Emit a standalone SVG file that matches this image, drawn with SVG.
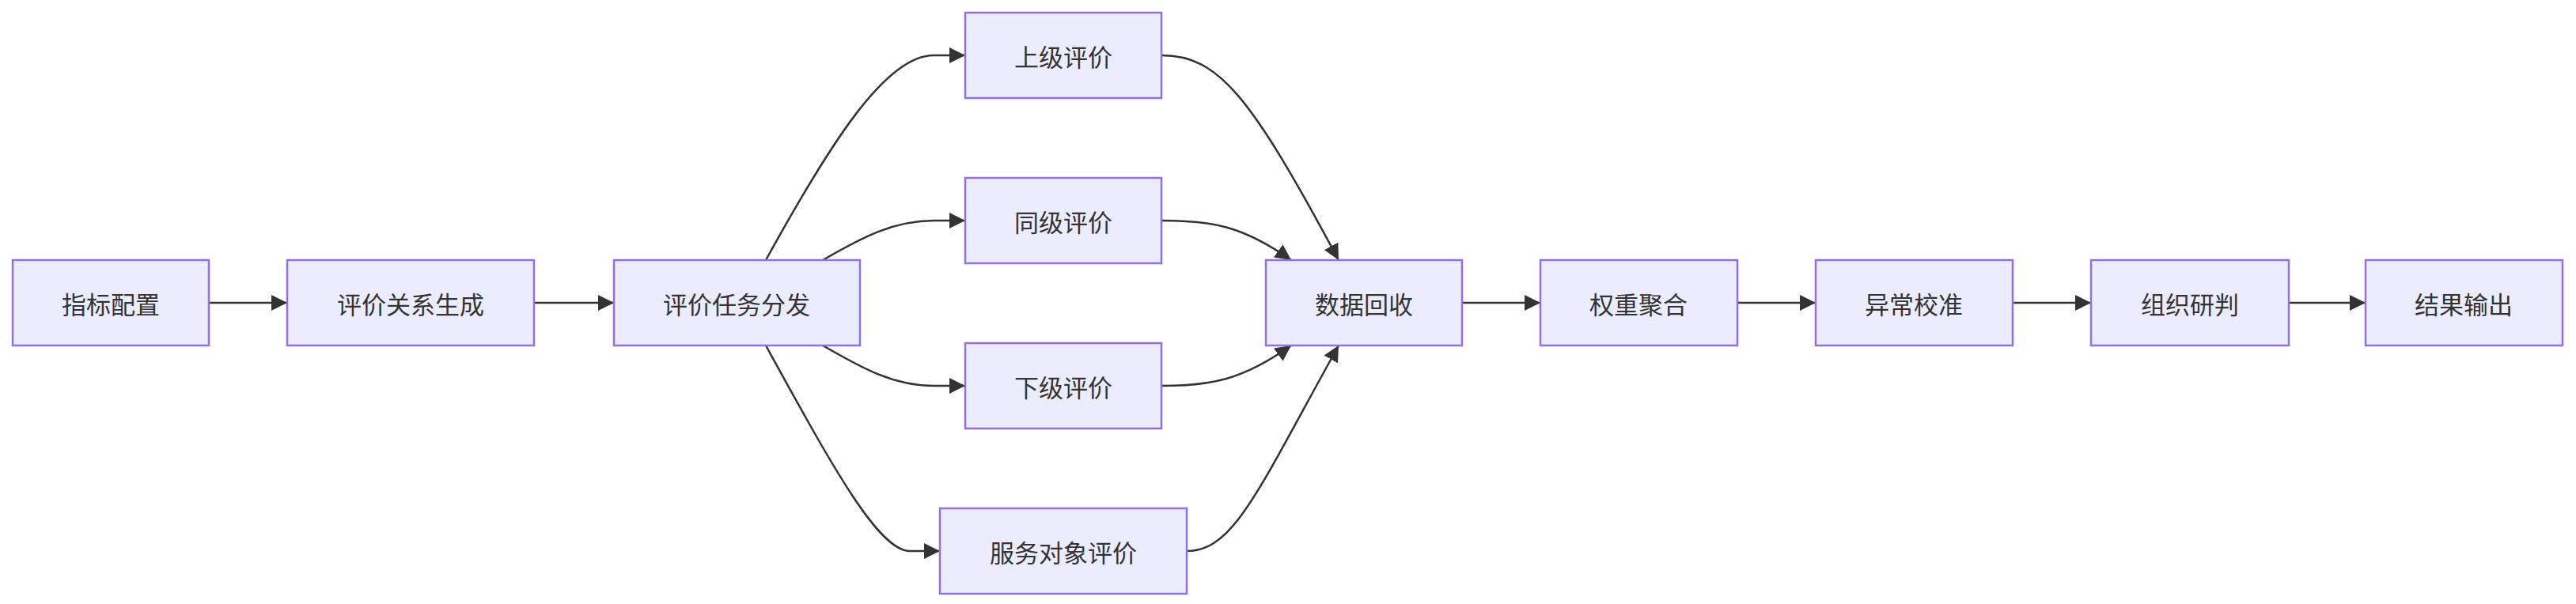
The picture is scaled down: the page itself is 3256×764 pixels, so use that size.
<svg xmlns="http://www.w3.org/2000/svg" width="3256" height="764" viewBox="0 0 3256 764">
<style>
.n rect{fill:#ECECFF;stroke:#9370DB;stroke-width:2.5}
.n text{font-family:"Noto Sans CJK SC","Liberation Sans",sans-serif;font-size:31px;fill:#333;text-anchor:middle;dominant-baseline:central}
.e path{fill:none;stroke:#333;stroke-width:2.5;marker-end:url(#a)}
</style>
<defs><marker id="a" markerUnits="userSpaceOnUse" markerWidth="20" markerHeight="20" viewBox="0 0 10 10" refX="10" refY="5" orient="auto"><path d="M0,0L10,5L0,10z" fill="#333"/></marker></defs>
<g class="e">
<path d="M264,383H363"/>
<path d="M675,383H776"/>
<path d="M968,329C1050,180 1120,70 1180,70H1220"/>
<path d="M1040,329C1090,300 1130,279 1180,279H1220"/>
<path d="M1040,437C1090,466 1130,488 1180,488H1220"/>
<path d="M968,437C1050,586 1110,697 1150,697H1188"/>
<path d="M1468,70C1540,70 1580,120 1692,329"/>
<path d="M1468,279C1530,279 1570,285 1632,329"/>
<path d="M1468,488C1530,488 1570,481 1632,437"/>
<path d="M1500,697C1560,697 1590,620 1692,437"/>
<path d="M1848,383H1947"/>
<path d="M2196,383H2295"/>
<path d="M2544,383H2643"/>
<path d="M2893,383H2990"/>
</g>
<g class="n" id="n1"><rect x="16" y="329" width="248" height="108"/><text x="140" y="383">指标配置</text></g>
<g class="n" id="n2"><rect x="363" y="329" width="312" height="108"/><text x="519" y="383">评价关系生成</text></g>
<g class="n" id="n3"><rect x="776" y="329" width="311" height="108"/><text x="931" y="383">评价任务分发</text></g>
<g class="n" id="n4"><rect x="1220" y="16" width="248" height="108"/><text x="1344" y="70">上级评价</text></g>
<g class="n" id="n5"><rect x="1220" y="225" width="248" height="108"/><text x="1344" y="279">同级评价</text></g>
<g class="n" id="n6"><rect x="1220" y="434" width="248" height="108"/><text x="1344" y="488">下级评价</text></g>
<g class="n" id="n7"><rect x="1188" y="643" width="312" height="108"/><text x="1344" y="697">服务对象评价</text></g>
<g class="n" id="n8"><rect x="1600" y="329" width="248" height="108"/><text x="1724" y="383">数据回收</text></g>
<g class="n" id="n9"><rect x="1947" y="329" width="249" height="108"/><text x="2071" y="383">权重聚合</text></g>
<g class="n" id="n10"><rect x="2295" y="329" width="249" height="108"/><text x="2419" y="383">异常校准</text></g>
<g class="n" id="n11"><rect x="2643" y="329" width="250" height="108"/><text x="2768" y="383">组织研判</text></g>
<g class="n" id="n12"><rect x="2990" y="329" width="249" height="108"/><text x="3114" y="383">结果输出</text></g>
</svg>
